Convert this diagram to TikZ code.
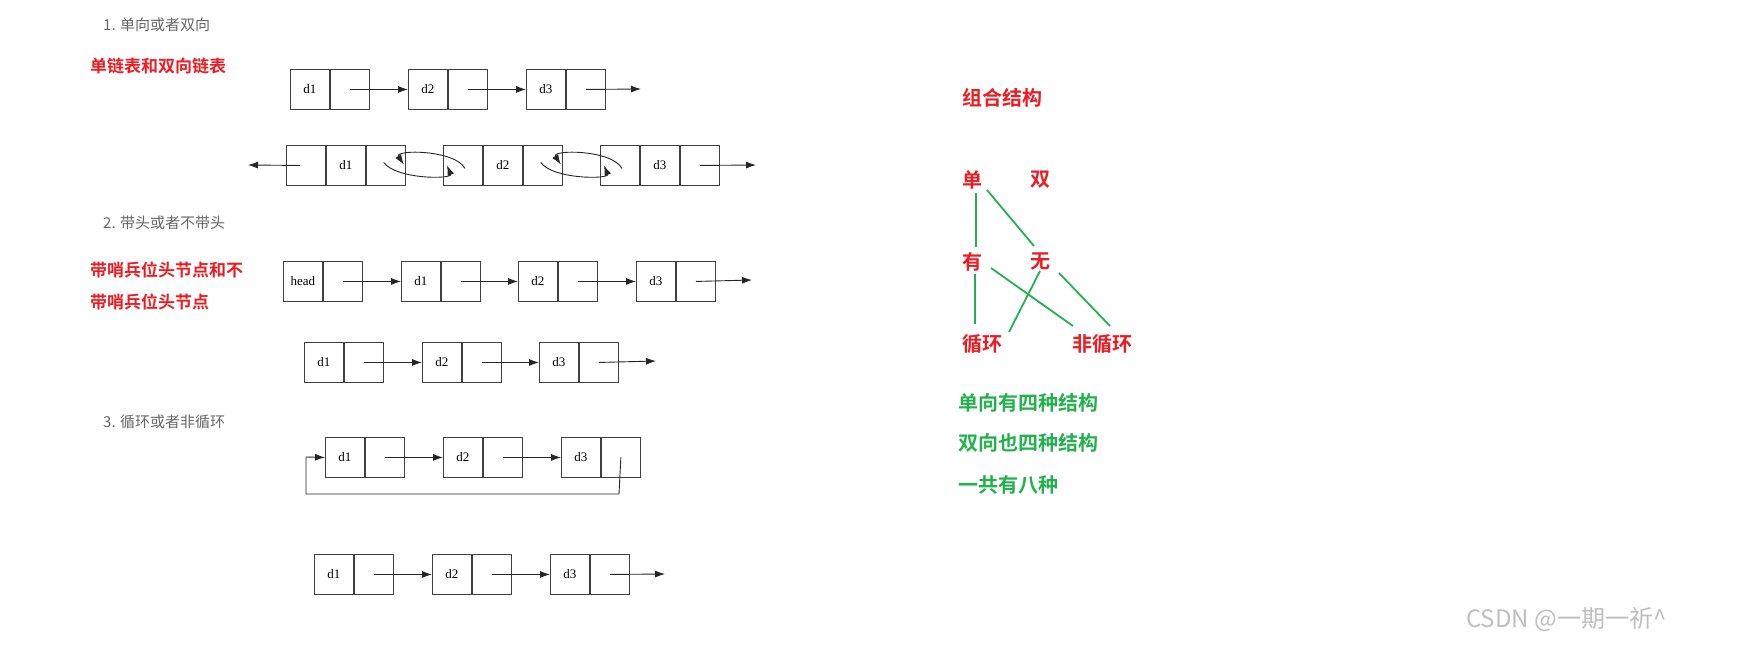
\documentclass[tikz,border=0pt]{standalone}
\usepackage{fontspec}
\setmainfont{Liberation Serif}
\newfontfamily\cjk{Noto Sans CJK SC}
\newfontfamily\cjkbold{Noto Sans CJK SC Bold}
\usetikzlibrary{arrows.meta}
\definecolor{myred}{RGB}{237,28,36}
\definecolor{mygreen}{RGB}{34,177,76}
\tikzset{
  cell/.style={draw=black!75,line width=0.9pt,minimum width=39pt,minimum height=40pt,inner sep=0pt,font=\fontsize{13}{13}\selectfont},
  arr/.style={-{Latex[length=10pt,width=7pt]},line width=0.9pt,black!85},
  gtitle/.style={anchor=west,font=\cjk\fontsize{15}{15}\selectfont,text=black!60,inner sep=0pt},
  redt/.style={anchor=west,font=\cjkbold\fontsize{17}{17}\selectfont,text=myred,inner sep=0pt},
  grnt/.style={anchor=west,font=\cjkbold\fontsize{20}{20}\selectfont,text=mygreen,inner sep=0pt},
  rtag/.style={anchor=west,font=\cjkbold\fontsize{20}{20}\selectfont,text=myred,inner sep=0pt},
  gline/.style={mygreen,line width=1.8pt}
}
\newcommand\mkbox[4]{%
  \node[cell,anchor=north west] (#1-a) at (#2,#3) {#4};
  \node[cell,anchor=west] (#1-b) at (#1-a.east) {};}
\newcommand\mkdbl[4]{%
  \node[cell,anchor=north west] (#1-p) at (#2,#3) {};
  \node[cell,anchor=west] (#1-a) at (#1-p.east) {#4};
  \node[cell,anchor=west] (#1-b) at (#1-a.east) {};}
\begin{document}
\begin{tikzpicture}[x=1pt,y=-1pt]
\useasboundingbox (0,0) rectangle (1747,648);
% titles
\node[gtitle] (t1) at (103,25) {1. 单向或者双向};
\node[gtitle] (t2) at (103,223) {2. 带头或者不带头};
\node[gtitle] (t3) at (103,422) {3. 循环或者非循环};
\node[redt] (n1) at (90,66) {单链表和双向链表};
\node[redt] (n2) at (90,270) {带哨兵位头节点和不};
\node[redt] (n3) at (90,302) {带哨兵位头节点};
% row 1
\mkbox{ra}{290}{69}{d1}\mkbox{rb}{408}{69}{d2}\mkbox{rc}{526}{69}{d3}
\coordinate (ra-end) at (641,89);
\draw[arr] (ra-b.center) -- (rb-a.west);
\draw[arr] (rb-b.center) -- (rc-a.west);
\draw[arr] (rc-b.center) -- (ra-end);
% row 2 double
\mkdbl{da}{286}{145}{d1}\mkdbl{db}{443}{145}{d2}\mkdbl{dc}{600}{145}{d3}
\coordinate (dl) at (248,165); \coordinate (dr) at (756,165);
\draw[arr] ([xshift=-6pt]da-p.center) -- (dl);
\draw[arr] (dc-b.center) -- (dr);
\draw[arr] ([xshift=-2pt,yshift=3pt]da-b.center) .. controls ([xshift=10pt,yshift=-14pt]da-b.center) and ([xshift=-10pt,yshift=-14pt]db-p.center) .. ([xshift=-16pt,yshift=0pt]db-p.center);
\draw[arr] ([xshift=2pt,yshift=-3pt]db-p.center) .. controls ([xshift=-8pt,yshift=16pt]db-p.center) and ([xshift=8pt,yshift=16pt]da-b.center) .. ([xshift=18pt,yshift=1pt]da-b.center);
\draw[arr] ([xshift=-2pt,yshift=3pt]db-b.center) .. controls ([xshift=10pt,yshift=-14pt]db-b.center) and ([xshift=-10pt,yshift=-14pt]dc-p.center) .. ([xshift=-16pt,yshift=0pt]dc-p.center);
\draw[arr] ([xshift=2pt,yshift=-3pt]dc-p.center) .. controls ([xshift=-8pt,yshift=16pt]dc-p.center) and ([xshift=8pt,yshift=16pt]db-b.center) .. ([xshift=18pt,yshift=1pt]db-b.center);
% row 3 head
\mkbox{ha}{283}{261}{head}\mkbox{hb}{401}{261}{d1}\mkbox{hc}{518}{261}{d2}\mkbox{hd}{636}{261}{d3}
\coordinate (h-end) at (752,280);
\draw[arr] (ha-b.center) -- (hb-a.west);
\draw[arr] (hb-b.center) -- (hc-a.west);
\draw[arr] (hc-b.center) -- (hd-a.west);
\draw[arr] (hd-b.center) -- (h-end);
% row 4
\mkbox{qa}{304}{342}{d1}\mkbox{qb}{422}{342}{d2}\mkbox{qc}{539}{342}{d3}
\coordinate (q-end) at (656,361);
\draw[arr] (qa-b.center) -- (qb-a.west);
\draw[arr] (qb-b.center) -- (qc-a.west);
\draw[arr] (qc-b.center) -- (q-end);
% row 5 circular
\mkbox{ca}{325}{437}{d1}\mkbox{cb}{443}{437}{d2}\mkbox{cc}{561}{437}{d3}
\draw[arr] (ca-b.center) -- (cb-a.west);
\draw[arr] (cb-b.center) -- (cc-a.west);
\coordinate (cl1) at (619,494); \coordinate (cl2) at (306,494); \coordinate (cl3) at (306,457);
\draw[arr] (cc-b.center) -- (cl1) -- (cl2) -- (cl3) -- (ca-a.west);
% row 6
\mkbox{sa}{314}{554}{d1}\mkbox{sb}{432}{554}{d2}\mkbox{sc}{550}{554}{d3}
\coordinate (s-end) at (665,574);
\draw[arr] (sa-b.center) -- (sb-a.west);
\draw[arr] (sb-b.center) -- (sc-a.west);
\draw[arr] (sc-b.center) -- (s-end);
% right side
\node[rtag] (zh) at (962,98) {组合结构};
\node[rtag] (dan) at (962,180) {单};
\node[rtag] (shuang) at (1030,180) {双};
\node[rtag] (you) at (962,262) {有};
\node[rtag] (wu) at (1030,262) {无};
\node[rtag] (xh) at (962,344) {循环};
\node[rtag] (fxh) at (1072,344) {非循环};
\coordinate (a1) at (976,193); \coordinate (a2) at (976,247);
\coordinate (b1) at (987,190); \coordinate (b2) at (1034,246);
\coordinate (c1) at (975,274); \coordinate (c2) at (975,324);
\coordinate (d1) at (991,268); \coordinate (d2) at (1073,326);
\coordinate (e1) at (1040,271); \coordinate (e2) at (1009,332);
\coordinate (f1) at (1059,273); \coordinate (f2) at (1110,326);
\draw[gline] (a1) -- (a2); \draw[gline] (b1) -- (b2); \draw[gline] (c1) -- (c2);
\draw[gline] (d1) -- (d2); \draw[gline] (e1) -- (e2); \draw[gline] (f1) -- (f2);
\node[grnt] (g1) at (958,403) {单向有四种结构};
\node[grnt] (g2) at (958,443) {双向也四种结构};
\node[grnt] (g3) at (958,485) {一共有八种};
\node[anchor=west,font=\cjk\fontsize{24}{24}\selectfont,text=black!25,inner sep=0pt] (wm) at (1466,620) {CSDN @一期一祈\^{}};
\end{tikzpicture}
\end{document}
